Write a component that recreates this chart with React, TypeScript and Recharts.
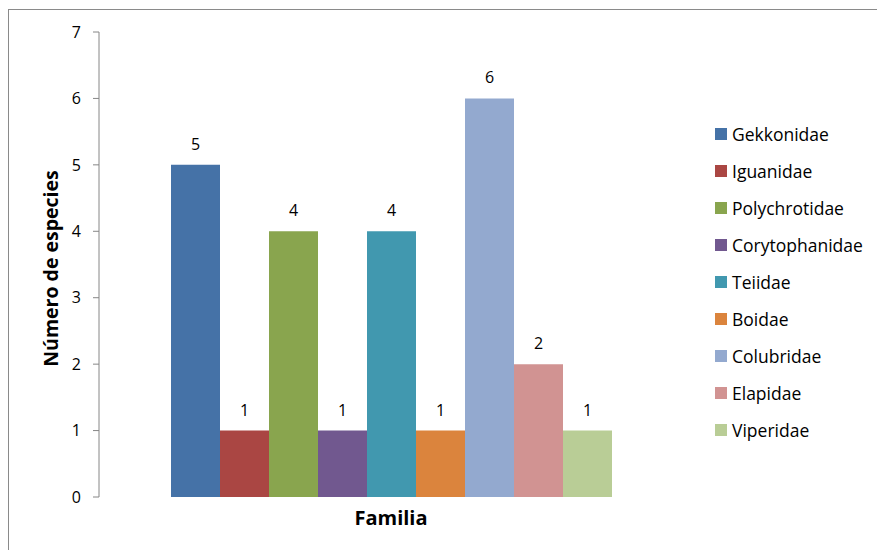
import React from 'react';
import { BarChart, Bar, XAxis, YAxis, LabelList } from 'recharts';

// Familias de reptiles y número de especies registradas
const families = [
  'Gekkonidae',
  'Iguanidae',
  'Polychrotidae',
  'Corytophanidae',
  'Teiidae',
  'Boidae',
  'Colubridae',
  'Elapidae',
  'Viperidae',
];
const speciesCounts = [5, 1, 4, 1, 4, 1, 6, 2, 1];
const familyColors = [
  '#4572A7',
  '#AA4643',
  '#89A54E',
  '#71588F',
  '#4198AF',
  '#DB843D',
  '#93A9CF',
  '#D19392',
  '#B9CD96',
];
const categories = ['Familia'];
const yTicks = [0, 1, 2, 3, 4, 5, 6, 7];

const FONT = '"Open Sans", sans-serif';
const AXIS_GRAY = '#868686';

const rows = categories.map((name) => {
  const row: Record<string, string | number> = { name };
  families.forEach((f, i) => {
    row[f] = speciesCounts[i];
  });
  return row;
});

const CategoryTick = (props: any) => {
  const { x, y, payload } = props;
  return (
    <text
      x={x}
      y={y + 20}
      textAnchor="middle"
      fontFamily={FONT}
      fontSize={20}
      fontWeight={700}
      fill="#000"
    >
      {payload.value}
    </text>
  );
};

const YTitle = (props: any) => {
  const vb = props.viewBox || { y: 32, height: 465 };
  const cy = vb.y + vb.height / 2 + 4;
  return (
    <text
      x={50}
      y={cy}
      transform={`rotate(-90, 50, ${cy})`}
      textAnchor="middle"
      dominantBaseline="central"
      fontFamily={FONT}
      fontSize={19.5}
      fontWeight={700}
      fill="#000"
    >
      Número de especies
    </text>
  );
};

export default function App() {
  return (
    <div
      style={{
        position: 'fixed',
        left: 0,
        top: 0,
        width: 877,
        height: 550,
        overflow: 'hidden',
        background: '#fff',
      }}
    >
      <div
        style={{
          position: 'absolute',
          left: 8,
          top: 9,
          width: 900,
          height: 600,
          border: '1px solid #8a8a8a',
          boxSizing: 'border-box',
        }}
      />
      <div style={{ position: 'absolute', left: 0, top: 0 }}>
        <BarChart
          width={877}
          height={550}
          data={rows}
          margin={{ top: 32, right: 194, bottom: 0, left: 0 }}
          barCategoryGap={72}
          barGap={0}
        >
          <XAxis
            dataKey="name"
            axisLine={false}
            tickLine={false}
            height={53}
            tick={<CategoryTick />}
          />
          <YAxis
            width={99}
            domain={[0, 7]}
            ticks={yTicks}
            interval={0}
            tickSize={6}
            tickMargin={12}
            axisLine={{ stroke: AXIS_GRAY }}
            tickLine={{ stroke: AXIS_GRAY }}
            tick={{ fontFamily: FONT, fontSize: 16, fill: '#000' }}
            label={<YTitle />}
          />
          {families.map((f, i) => (
            <Bar key={f} dataKey={f} fill={familyColors[i]} isAnimationActive={false}>
              <LabelList
                dataKey={f}
                position="top"
                offset={15}
                style={{ fontFamily: FONT, fontSize: 16, fill: '#000' }}
              />
            </Bar>
          ))}
        </BarChart>
      </div>
      <div style={{ position: 'absolute', left: 715, top: 115 }}>
        {families.map((f, i) => (
          <div
            key={f}
            style={{
              display: 'flex',
              alignItems: 'center',
              height: 37,
              fontFamily: FONT,
              fontSize: 17.5,
              color: '#000',
              whiteSpace: 'nowrap',
            }}
          >
            <span
              style={{
                display: 'inline-block',
                width: 12,
                height: 12,
                background: familyColors[i],
                marginRight: 5,
              }}
            />
            {f}
          </div>
        ))}
      </div>
    </div>
  );
}
